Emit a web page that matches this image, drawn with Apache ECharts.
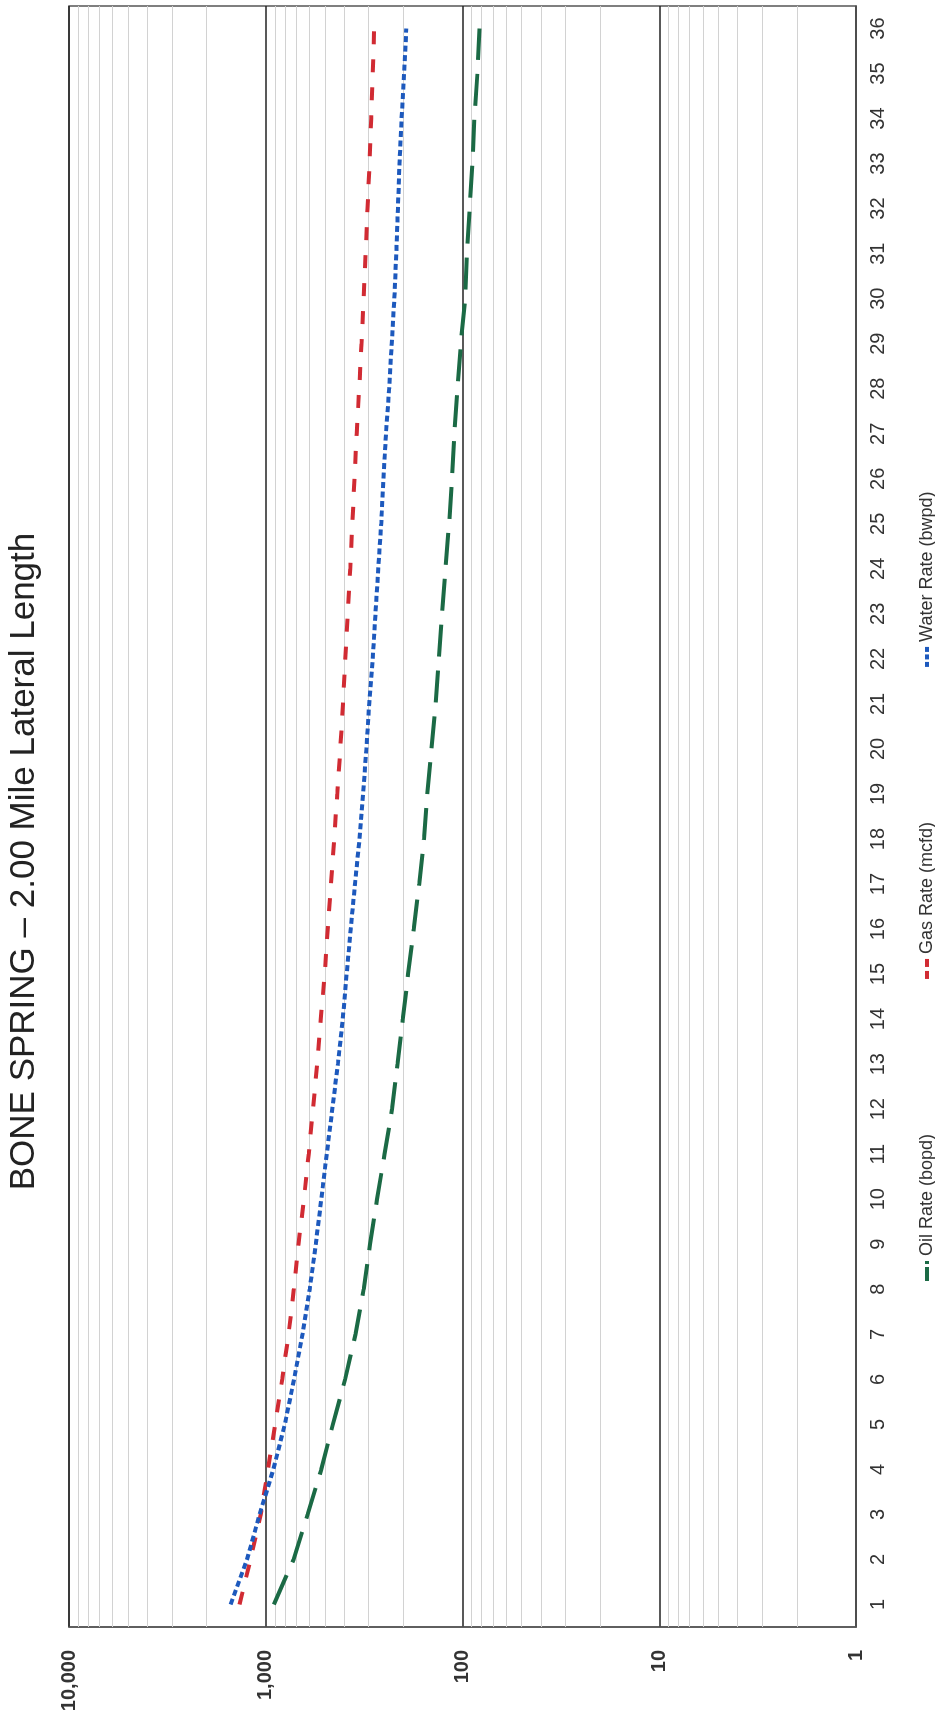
<!DOCTYPE html>
<html>
<head>
<meta charset="utf-8">
<title>Bone Spring type curve</title>
<script src="https://cdn.jsdelivr.net/npm/echarts@6/dist/echarts.min.js"></script>
<style>
  html, body { margin: 0; padding: 0; background: #fff; }
  #wrap { position: absolute; left: 0; top: 0; width: 935px; height: 1723px; overflow: hidden; }
  /* the chart is laid out landscape and turned a quarter turn, like the scanned page */
  #chart { position: absolute; left: 0; top: 0; width: 1723px; height: 935px;
           transform-origin: 0 0; transform: translateY(1723px) rotate(-90deg); }
</style>
</head>
<body>
<div id="wrap"><div id="chart"></div></div>
<script>
var months = ['1', '2', '3', '4', '5', '6', '7', '8', '9', '10', '11', '12',
  '13', '14', '15', '16', '17', '18', '19', '20', '21', '22', '23', '24',
  '25', '26', '27', '28', '29', '30', '31', '32', '33', '34', '35', '36']

var oilRate = [910, 722, 612, 522, 456, 395, 350, 318, 295, 272, 249, 228,
  214, 201, 189, 177, 166, 157, 151, 144, 137, 132, 127, 122,
  117, 113, 110, 106, 102, 97, 95, 92, 89, 87, 84, 82]
var gasRate = [1360, 1195, 1060, 975, 895, 825, 766, 720, 682, 640, 605, 575,
  548, 525, 502, 484, 466, 449, 433, 418, 405, 394, 383, 372,
  363, 354, 345, 335, 326, 318, 311, 304, 297, 291, 286, 281]
var waterRate = [1510, 1245, 1075, 915, 800, 718, 651, 598, 557, 522, 490, 459,
  430, 406, 388, 370, 352, 334, 320, 308, 298, 286, 277, 268,
  259, 252, 245, 236, 229, 222, 217, 213, 209, 204, 198, 193]

var rateTicks = [1, 10, 100, 1000, 10000]
var rateTickLabels = ['1', '10', '100', '1,000', '10,000']
// minor log grid lines 2..9 in every decade
var minorTicks = [2, 3, 4, 5, 6, 7, 8, 9,
  20, 30, 40, 50, 60, 70, 80, 90,
  200, 300, 400, 500, 600, 700, 800, 900,
  2000, 3000, 4000, 5000, 6000, 7000, 8000, 9000]

var chart = echarts.init(document.getElementById('chart'))
var font = 'Liberation Sans, Arial, Helvetica, sans-serif'

// little dashed swatches for the legend, one per line style
var icons = {
  oil: 'path://M0,0h14v4h-14z M17,0h3v4h-3z',
  gas: 'path://M0,0h8v4h-8z M12,0h8v4h-8z',
  water: 'path://M0,0h5v4h-5z M7.5,0h5v4h-5z M15,0h5v4h-5z'
}

var option = {
  animation: false,
  backgroundColor: '#fff',
  title: {
    text: 'BONE SPRING \u2013 2.00 Mile Lateral Length',
    left: 'center',
    top: 2,
    textStyle: { fontFamily: font, fontSize: 35, fontWeight: 'normal', color: '#222' }
  },
  legend: {
    left: 437,
    top: 913,
    itemGap: 155,
    itemWidth: 20,
    itemHeight: 5,
    textStyle: { fontFamily: font, fontSize: 18, color: '#333' },
    data: [
      { name: 'Oil Rate (bopd)', icon: icons.oil },
      { name: 'Gas Rate (mcfd)', icon: icons.gas },
      { name: 'Water Rate (bwpd)', icon: icons.water }
    ]
  },
  grid: {
    left: 96,
    right: 6,
    top: 69,
    bottom: 79,
    show: true,
    borderColor: '#555',
    borderWidth: 1.5
  },
  xAxis: {
    type: 'category',
    data: months,
    boundaryGap: true,
    axisLine: { lineStyle: { color: '#555', width: 1.5 } },
    axisTick: { show: false },
    axisLabel: { interval: 0, margin: 12, fontFamily: font, fontSize: 20, color: '#333' },
    splitLine: { show: false }
  },
  yAxis: {
    type: 'log',
    logBase: 10,
    min: 1,
    max: 10000,
    axisLine: { show: true, lineStyle: { color: '#555', width: 1.5 } },
    axisTick: { show: false },
    axisLabel: {
      margin: 23,
      fontFamily: font,
      fontSize: 20,
      fontWeight: 'bold',
      color: '#333',
      formatter: function (v) {
        var i = rateTicks.indexOf(Math.round(v))
        return i >= 0 ? rateTickLabels[i] : ''
      }
    },
    splitLine: { show: true, lineStyle: { color: '#222', width: 1.5 } }
  },
  series: [
    {
      name: 'Oil Rate (bopd)',
      type: 'line',
      data: oilRate,
      symbol: 'none',
      z: 3,
      lineStyle: { color: '#1b6a45', width: 4, type: [32, 14] },
      itemStyle: { color: '#1b6a45' },
      markLine: {
        silent: true,
        z: 1,
        symbol: ['none', 'none'],
        label: { show: false },
        lineStyle: { color: '#d2d2d2', width: 1.2, type: 'solid' },
        emphasis: { disabled: true },
        data: minorTicks.map(function (v) { return { yAxis: v } })
      }
    },
    {
      name: 'Gas Rate (mcfd)',
      type: 'line',
      data: gasRate,
      symbol: 'none',
      z: 3,
      lineStyle: { color: '#d12b33', width: 4, type: [13, 15] },
      itemStyle: { color: '#d12b33' }
    },
    {
      name: 'Water Rate (bwpd)',
      type: 'line',
      data: waterRate,
      symbol: 'none',
      z: 3,
      lineStyle: { color: '#1d59bd', width: 4, type: [6, 3.5] },
      itemStyle: { color: '#1d59bd' }
    }
  ]
}

chart.setOption(option)
</script>
</body>
</html>
